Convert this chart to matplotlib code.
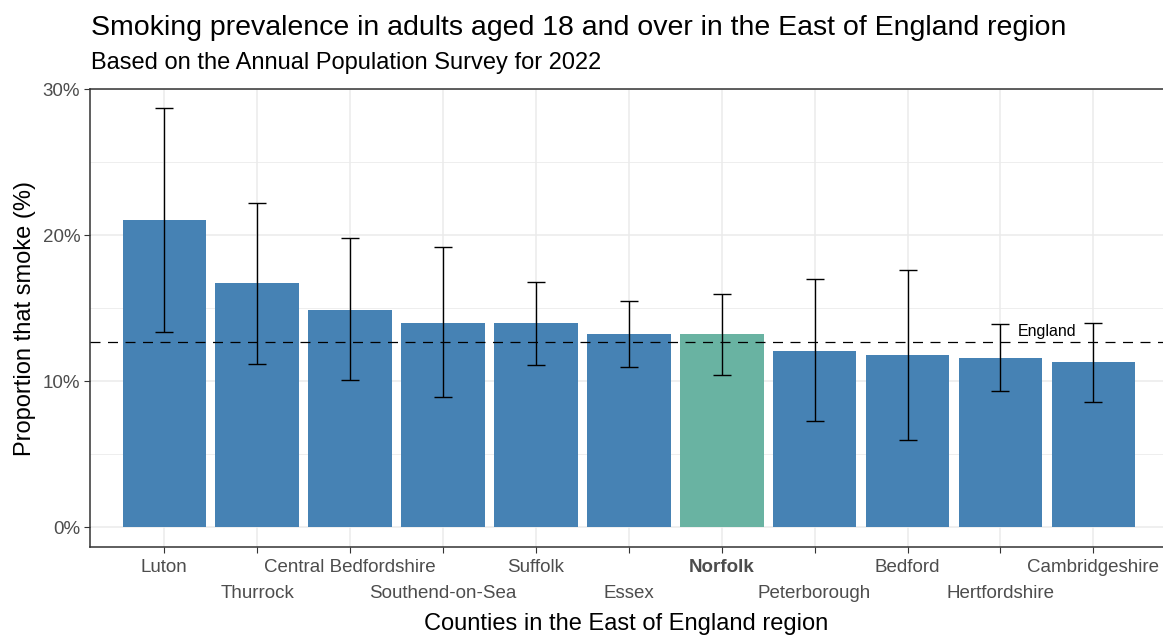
import matplotlib
matplotlib.use("Agg")
import matplotlib.pyplot as plt
import numpy as np
from matplotlib.ticker import FuncFormatter, MultipleLocator

plt.rcParams["font.family"] = ["Liberation Sans", "DejaVu Sans"]

counties = ["Luton", "Thurrock", "Central Bedfordshire", "Southend-on-Sea", "Suffolk",
            "Essex", "Norfolk", "Peterborough", "Bedford", "Hertfordshire", "Cambridgeshire"]
prevalence = [21.0, 16.7, 14.9, 14.0, 14.0, 13.2, 13.2, 12.1, 11.8, 11.6, 11.3]
ci_lower = [13.4, 11.2, 10.1, 8.9, 11.1, 11.0, 10.4, 7.3, 6.0, 9.3, 8.6]
ci_upper = [28.7, 22.2, 19.8, 19.2, 16.8, 15.5, 16.0, 17.0, 17.6, 13.9, 14.0]
england = 12.65
highlight = "Norfolk"

BLUE = "#4682B4"
GREEN = "#69B3A2"
GRID = "#EBEBEB"
TXT = "#4D4D4D"

W, H = 1163, 635
fig = plt.figure(figsize=(W / 100, H / 100), dpi=100)
fig.patch.set_facecolor("white")
# axes box in pixel coords: left 90, right 1163, top 89, bottom 547
ax = fig.add_axes([90 / W, 1 - 547 / H, (1163 - 90) / W, (547 - 89) / H])

x = np.arange(1, len(counties) + 1)
vals = np.array(prevalence)
lo = np.array(ci_lower)
hi = np.array(ci_upper)
colors = [GREEN if c == highlight else BLUE for c in counties]

ax.bar(x, vals, width=0.9, color=colors, zorder=2)
ax.errorbar(x, vals, yerr=np.vstack([vals - lo, hi - vals]), fmt="none", ecolor="black",
            elinewidth=1.0, capsize=6.5, capthick=1.0, zorder=3)
ax.axhline(england, color="black", linewidth=0.9, linestyle=(0, (8, 6)), zorder=4)
ax.text(10.5, england + 0.75, "England", ha="center", va="center", fontsize=11.5, color="black", zorder=5)

ax.set_xlim(0.2, 11.75)
ax.set_ylim(-1.35, 30)
ax.yaxis.set_major_locator(MultipleLocator(10))
ax.yaxis.set_minor_locator(MultipleLocator(5))
ax.yaxis.set_major_formatter(FuncFormatter(lambda v, _: f"{v:.0f}%"))
ax.grid(which="major", axis="y", color=GRID, linewidth=1.1, zorder=0)
ax.grid(which="minor", axis="y", color=GRID, linewidth=0.6, zorder=0)

# dodge labels over two rows: odd positions as major ticks, even ones as minor ticks
row1 = x[0::2]
row2 = x[1::2]
ax.set_xticks(row1)
ax.set_xticklabels(counties[0::2])
ax.set_xticks(row2, minor=True)
ax.set_xticklabels(counties[1::2], minor=True)
ax.grid(which="both", axis="x", color=GRID, linewidth=1.1, zorder=0)
ax.set_axisbelow(True)

for lab in ax.get_xticklabels() + ax.get_xticklabels(minor=True):
    if lab.get_text() == highlight:
        lab.set_fontweight("bold")

ax.tick_params(axis="both", which="both", length=4, width=0.8, color="#333333", labelcolor=TXT, labelsize=13.5)
ax.tick_params(axis="y", which="minor", length=0)
ax.tick_params(axis="x", which="major", pad=5)
ax.tick_params(axis="x", which="minor", pad=23)
ax.tick_params(axis="y", pad=3)

ax.spines["right"].set_visible(False)
for side in ("left", "bottom", "top"):
    ax.spines[side].set_color("#333333")
    ax.spines[side].set_linewidth(1.1)

ax.set_ylabel("Proportion that smoke (%)", fontsize=17, color="black", labelpad=5)
ax.set_xlabel("Counties in the East of England region", fontsize=17, color="black", labelpad=8.5)

fig.text(91 / W, 1 - 28 / H, "Smoking prevalence in adults aged 18 and over in the East of England region",
         fontsize=20.5, ha="left", va="center", color="black")
fig.text(91 / W, 1 - 63 / H, "Based on the Annual Population Survey for 2022",
         fontsize=17, ha="left", va="center", color="black")

fig.savefig("out.png", dpi=100, facecolor="white")
